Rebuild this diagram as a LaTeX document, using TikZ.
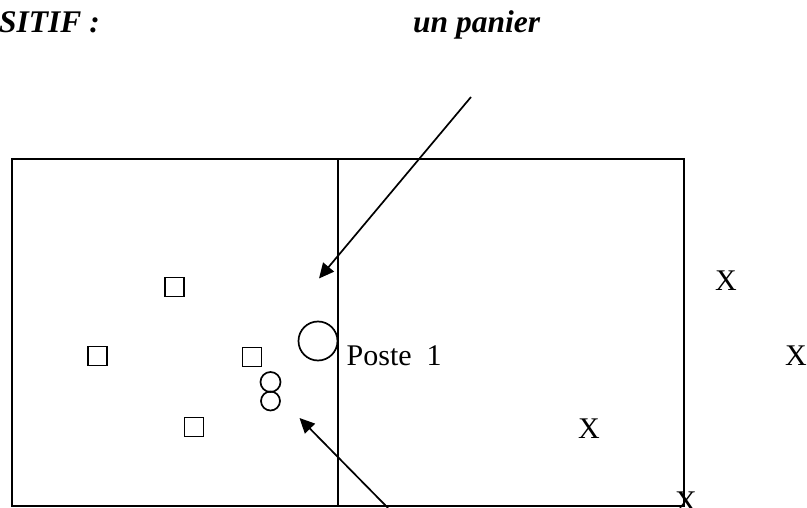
\documentclass[tikz,border=0pt]{standalone}
\usepackage{fontspec}
\setmainfont{Liberation Serif}
\usetikzlibrary{arrows.meta}
\begin{document}
\begin{tikzpicture}[x=1pt,y=-1pt,
  ln/.style={line width=1.8pt},
  txt/.style={inner sep=0pt,font=\fontsize{30}{36}\selectfont},
  ttl/.style={inner sep=0pt,font=\fontsize{31.5}{36}\selectfont\bfseries\itshape},
  player/.style={draw,line width=1.7pt,minimum size=19pt,inner sep=0pt},
  ptr/.style={line width=1.7pt,-{Triangle[length=15pt,width=14pt]}}]
\useasboundingbox (0,0) rectangle (807,508);
% field
\coordinate (tl) at (12,159);
\coordinate (br) at (684,506);
\coordinate (mt) at (338,159);
\coordinate (mb) at (338,506);
\draw[ln] (tl) rectangle (br);
\draw[ln] (mt) -- (mb);
% titles
\node[ttl,anchor=base east] (t1) at (100,33) {SITIF :};
\node[ttl,anchor=base west] (t2) at (413,33) {un panier};
% squares
\node[player] (s1) at (174.5,287) {};
\node[player] (s2) at (97.5,356) {};
\node[player] (s3) at (252,357) {};
\node[player] (s4) at (194,427) {};
% circles
\node[draw,circle,line width=1.7pt,minimum size=39pt,inner sep=0pt] (basket) at (318,341) {};
\node[draw,circle,line width=1.7pt,minimum size=20pt,inner sep=0pt] (c1) at (270.5,382) {};
\node[draw,circle,line width=1.7pt,minimum size=19pt,inner sep=0pt] (c2) at (270.5,401) {};
% labels
\node[txt,anchor=base west] (poste) at (346.5,365) {Poste\hspace{7.5pt} 1};
\node[txt,anchor=base] (x1) at (726,290.5) {X};
\node[txt,anchor=base] (x2) at (796,365) {X};
\node[txt,anchor=base] (x3) at (589,438) {X};
\node[txt,anchor=base] (x4) at (686,511) {X};
% arrows
\coordinate (a1s) at (471,97);
\coordinate (a1e) at (319,278.5);
\coordinate (a2s) at (388,508);
\coordinate (a2e) at (299.5,418);
\draw[ptr] (a1s) -- (a1e);
\draw[ptr] (a2s) -- (a2e);
\end{tikzpicture}
\end{document}
